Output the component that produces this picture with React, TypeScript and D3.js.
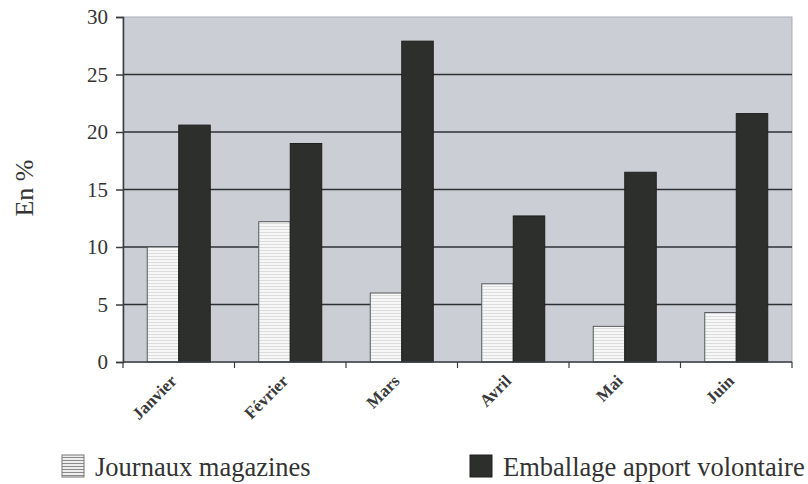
import React, { useEffect, useRef } from 'react';
import * as d3 from 'd3';

// data
const months = ['Janvier', 'Février', 'Mars', 'Avril', 'Mai', 'Juin'];
const seriesNames = ['Journaux magazines', 'Emballage apport volontaire'];
const journaux = [10.0, 12.2, 6.0, 6.8, 3.1, 4.3];
const emballage = [20.6, 19.0, 27.9, 12.7, 16.5, 21.6];
const yTicks = [0, 5, 10, 15, 20, 25, 30];

const WIDTH = 808;
const HEIGHT = 484;

function App() {
  const svgRef = useRef<SVGSVGElement>(null);

  useEffect(() => {
    if (!svgRef.current) return;
    const svg = d3.select(svgRef.current);
    svg.selectAll('*').remove();

    const m = { left: 123, right: 16, top: 17, bottom: 122 };
    const plotW = WIDTH - m.left - m.right;
    const plotH = HEIGHT - m.top - m.bottom;

    const defs = svg.append('defs');
    const pat = defs.append('pattern')
      .attr('id', 'stripes')
      .attr('patternUnits', 'userSpaceOnUse')
      .attr('width', 6)
      .attr('height', 3);
    pat.append('rect').attr('width', 6).attr('height', 3).attr('fill', '#f7f7f7');
    pat.append('rect').attr('y', 2).attr('width', 6).attr('height', 1).attr('fill', '#dcdcdc');

    const legendPat = defs.append('pattern')
      .attr('id', 'stripesLegend')
      .attr('patternUnits', 'userSpaceOnUse')
      .attr('width', 6)
      .attr('height', 3);
    legendPat.append('rect').attr('width', 6).attr('height', 3).attr('fill', '#eeeeee');
    legendPat.append('rect').attr('y', 2).attr('width', 6).attr('height', 1).attr('fill', '#8a8a8a');

    const x0 = d3.scaleBand<string>()
      .domain(months)
      .range([0, plotW]);

    const x1 = d3.scaleBand<string>()
      .domain(seriesNames)
      .range([0, x0.bandwidth()])
      .paddingInner(0)
      .paddingOuter(0.77);

    const y = d3.scaleLinear()
      .domain([0, 30])
      .range([plotH, 0]);

    const g = svg.append('g').attr('transform', `translate(${m.left},${m.top})`);

    // plot background
    g.append('rect')
      .attr('width', plotW)
      .attr('height', plotH)
      .attr('fill', '#cbcfd5')
      .attr('stroke', '#a9adb3')
      .attr('stroke-width', 1);

    // gridlines
    g.append('g')
      .selectAll('line')
      .data(yTicks.filter(t => t > 0 && t < 30))
      .join('line')
      .attr('x1', 0)
      .attr('x2', plotW)
      .attr('y1', d => y(d))
      .attr('y2', d => y(d))
      .attr('stroke', '#2e3034')
      .attr('stroke-width', 1.6);

    // bars
    const groups = g.append('g')
      .selectAll('g')
      .data(months)
      .join('g')
      .attr('transform', d => `translate(${x0(d)},0)`);

    groups.append('rect')
      .attr('x', x1(seriesNames[0])!)
      .attr('width', x1.bandwidth())
      .attr('y', (_d, i) => y(journaux[i]))
      .attr('height', (_d, i) => plotH - y(journaux[i]))
      .attr('fill', 'url(#stripes)')
      .attr('stroke', '#55585c')
      .attr('stroke-width', 1);

    groups.append('rect')
      .attr('x', x1(seriesNames[1])!)
      .attr('width', x1.bandwidth())
      .attr('y', (_d, i) => y(emballage[i]))
      .attr('height', (_d, i) => plotH - y(emballage[i]))
      .attr('fill', '#2c2f2c')
      .attr('stroke', '#1e201e')
      .attr('stroke-width', 1);

    // y axis
    const yAxis = g.append('g')
      .call(d3.axisLeft(y).tickValues(yTicks).tickSize(7).tickPadding(8));
    yAxis.select('.domain').attr('stroke', '#3a3c40').attr('stroke-width', 1.5);
    yAxis.selectAll('.tick line').attr('stroke', '#3a3c40').attr('stroke-width', 1.5);
    yAxis.selectAll('.tick text')
      .attr('font-family', '"Liberation Serif", "Times New Roman", serif')
      .attr('font-size', 21)
      .attr('fill', '#333');

    // x axis with ticks at band edges
    const xEdges = months.map(mn => x0(mn)!).concat([plotW]);
    const xAxis = g.append('g').attr('transform', `translate(0,${plotH})`);
    xAxis.append('line')
      .attr('x1', 0).attr('x2', plotW)
      .attr('stroke', '#3a3c40').attr('stroke-width', 1.5);
    xAxis.selectAll('line.tk')
      .data(xEdges)
      .join('line')
      .attr('class', 'tk')
      .attr('x1', d => d).attr('x2', d => d)
      .attr('y1', 0).attr('y2', 6)
      .attr('stroke', '#3a3c40').attr('stroke-width', 1.2);
    xAxis.selectAll('text')
      .data(months)
      .join('text')
      .attr('transform', d => `translate(${x0(d)! + x0.bandwidth() / 2 - 1},${20}) rotate(-45)`)
      .attr('text-anchor', 'end')
      .attr('font-family', '"Liberation Serif", "Times New Roman", serif')
      .attr('font-weight', 'bold')
      .attr('font-size', 17)
      .attr('fill', '#3a3a3a')
      .text(d => d);

    // y title
    svg.append('text')
      .attr('transform', `translate(33,188) rotate(-90)`)
      .attr('text-anchor', 'middle')
      .attr('font-family', '"Liberation Serif", "Times New Roman", serif')
      .attr('font-size', 26)
      .attr('fill', '#333')
      .text('En %');

    // legend
    const legend = [
      { name: seriesNames[0], fill: 'url(#stripesLegend)', stroke: '#777', x: 62 },
      { name: seriesNames[1], fill: '#2c2f2c', stroke: '#1e201e', x: 470 },
    ];
    const lg = svg.append('g')
      .selectAll('g')
      .data(legend)
      .join('g')
      .attr('transform', d => `translate(${d.x},455)`);
    lg.append('rect')
      .attr('width', 22)
      .attr('height', 22)
      .attr('fill', d => d.fill)
      .attr('stroke', d => d.stroke);
    lg.append('text')
      .attr('x', 33)
      .attr('y', 21)
      .attr('font-family', '"Liberation Serif", "Times New Roman", serif')
      .attr('font-size', 26.5)
      .attr('fill', '#333')
      .text(d => d.name);
  }, []);

  return (
    <svg
      ref={svgRef}
      width={WIDTH}
      height={HEIGHT}
      style={{ position: 'absolute', left: 0, top: 0, background: '#fff' }}
    />
  );
}

export default App;
